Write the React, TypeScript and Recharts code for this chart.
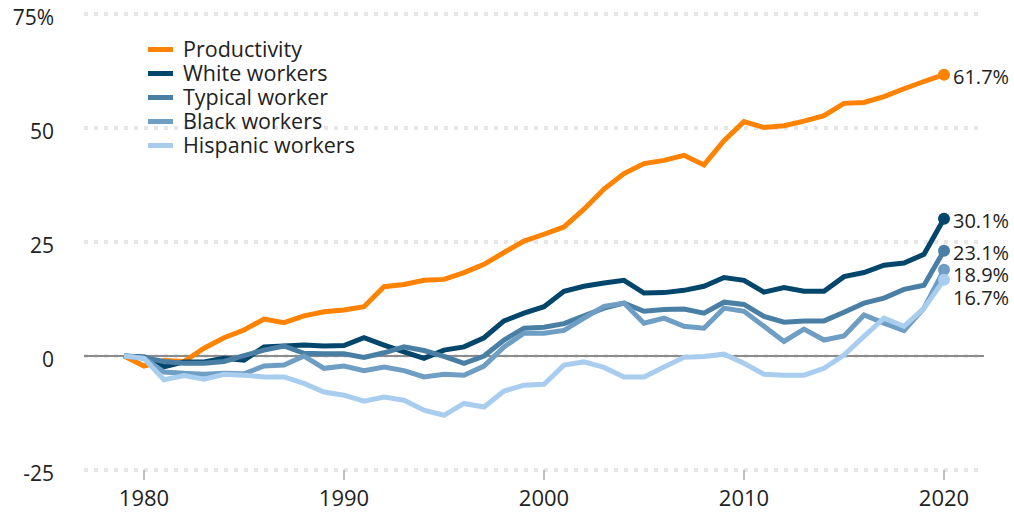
import React from "react"
import { LineChart, Line, XAxis, YAxis, CartesianGrid, ReferenceLine, Legend, LabelList } from "recharts"

const years = [
  1979, 1980, 1981, 1982, 1983, 1984, 1985, 1986, 1987, 1988, 1989, 1990, 1991, 1992, 1993, 1994, 1995, 1996, 1997,
  1998, 1999, 2000, 2001, 2002, 2003, 2004, 2005, 2006, 2007, 2008, 2009, 2010, 2011, 2012, 2013, 2014, 2015, 2016,
  2017, 2018, 2019, 2020,
]

const productivity = [
  0, -2.2, -1, -1.2, 1.7, 4, 5.7, 8.1, 7.3, 8.8, 9.7, 10.1, 10.8, 15.2, 15.7, 16.6, 16.8, 18.3, 20.1, 22.7, 25.2,
  26.7, 28.3, 32.2, 36.6, 40, 42.2, 42.9, 44, 41.9, 47.2, 51.4, 50.1, 50.5, 51.5, 52.7, 55.4, 55.6, 56.9, 58.6, 60.2,
  61.7,
]
const white = [
  0, -0.2, -2.4, -1.3, -1.3, -0.5, -0.9, 2, 2.2, 2.4, 2.2, 2.3, 4, 2.4, 0.9, -0.5, 1.3, 2, 4, 7.7, 9.4, 10.8, 14.2,
  15.3, 16, 16.6, 13.8, 13.9, 14.4, 15.3, 17.2, 16.6, 14, 15, 14.2, 14.2, 17.4, 18.3, 19.9, 20.4, 22.3, 30.1,
]
const typical = [
  0, -0.4, -1.2, -1.6, -1.6, -1.2, 0.1, 1.3, 2.2, 0.6, 0.5, 0.5, -0.3, 0.7, 2, 1.2, -0.1, -1.6, 0, 3.5, 6.1, 6.3, 7.1,
  8.8, 10.5, 11.6, 9.8, 10.2, 10.3, 9.4, 11.8, 11.3, 8.7, 7.4, 7.7, 7.7, 9.6, 11.6, 12.7, 14.6, 15.5, 23.1,
]
const black = [
  0, -0.5, -3.5, -3.8, -4, -3.8, -3.9, -2.2, -2, 0, -2.7, -2.2, -3.2, -2.4, -3.2, -4.6, -4, -4.2, -2.2, 2, 5, 5, 5.6,
  8.3, 10.9, 11.6, 7.2, 8.3, 6.5, 6.1, 10.5, 9.8, 6.5, 3.2, 5.9, 3.5, 4.4, 9, 7.2, 5.6, 10.5, 18.9,
]
const hispanic = [
  0, -0.5, -5.2, -4.3, -5.1, -4, -4.2, -4.6, -4.6, -6, -7.9, -8.6, -9.9, -9, -9.7, -11.9, -13, -10.4, -11.2, -7.7,
  -6.4, -6.2, -2, -1.3, -2.5, -4.6, -4.6, -2.4, -0.3, -0.1, 0.4, -1.6, -4, -4.2, -4.2, -2.7, 0.2, 4.3, 8.3, 6.5, 10.5,
  16.7,
]

const yTicks = [-25, 0, 25, 50, 75]
const xTicks = [1980, 1990, 2000, 2010, 2020]

const series = [
  { key: "productivity", name: "Productivity", color: "#ff8200", values: productivity, labelDy: 0 },
  { key: "white", name: "White workers", color: "#03466b", values: white, labelDy: 0 },
  { key: "typical", name: "Typical worker", color: "#4a7fa5", values: typical, labelDy: 0 },
  { key: "black", name: "Black workers", color: "#6f9ec4", values: black, labelDy: 3 },
  { key: "hispanic", name: "Hispanic workers", color: "#a8cdee", values: hispanic, labelDy: 16 },
]

const data = years.map((year, i) => {
  const row: Record<string, number> = { year }
  series.forEach((s) => {
    row[s.key] = s.values[i]
  })
  return row
})

const FONT = "'Open Sans', sans-serif"
const last = years.length - 1

const LegendBox = () => (
  <div style={{ fontFamily: FONT, fontSize: 21.5, color: "#222", lineHeight: "24px" }}>
    {series.map((s) => (
      <div key={s.key} style={{ display: "flex", alignItems: "center", height: 24 }}>
        <span style={{ display: "inline-block", width: 25, height: 5, background: s.color, marginRight: 10 }} />
        <span>{s.name}</span>
      </div>
    ))}
  </div>
)

export default function App() {
  return (
    <div style={{ position: "absolute", left: 0, top: 0 }}>
      <LineChart width={1014} height={512} data={data} margin={{ top: 14, right: 30, left: 0, bottom: 0 }}>
        <CartesianGrid vertical={false} stroke="#e6e6e6" strokeWidth={4} strokeDasharray="4 6" />
        <XAxis
          dataKey="year"
          type="number"
          domain={[1977, 2022]}
          ticks={xTicks}
          height={42}
          axisLine={false}
          tickLine={{ stroke: "#aaa", strokeWidth: 1.5 }}
          tickSize={10}
          tickMargin={10}
          tick={{ fill: "#222", fontSize: 22, fontFamily: FONT }}
        />
        <YAxis
          type="number"
          domain={[-25, 75]}
          ticks={yTicks}
          width={84}
          axisLine={false}
          tickLine={false}
          tickSize={0}
          tickMargin={30}
          tickFormatter={(v: number) => (v === 75 ? "75%" : String(v))}
          tick={{ fill: "#222", fontSize: 21, fontFamily: FONT, dy: 4 }}
        />
        <ReferenceLine y={0} stroke="#8c8c8c" strokeWidth={2} />
        <Legend
          layout="horizontal"
          align="center"
          verticalAlign="middle"
          content={<LegendBox />}
          wrapperStyle={{ left: 148, top: 37, width: 300 }}
        />
        {series.map((s) => (
          <Line
            key={s.key}
            dataKey={s.key}
            name={s.name}
            stroke={s.color}
            strokeWidth={5}
            type="linear"
            isAnimationActive={false}
            dot={(props: any) =>
              props.index === last ? (
                <circle key={`d-${s.key}`} cx={props.cx} cy={props.cy} r={6} fill={s.color} />
              ) : (
                <g key={`d-${s.key}-${props.index}`} />
              )
            }
            activeDot={false}
          >
            <LabelList
              dataKey={s.key}
              content={(p: any) =>
                p.index === last ? (
                  <text
                    x={p.x + 9}
                    y={p.y + s.labelDy}
                    dy={9}
                    fontSize={20}
                    fontFamily={FONT}
                    fill="#222"
                  >
                    {`${p.value}%`}
                  </text>
                ) : null
              }
            />
          </Line>
        ))}
      </LineChart>
    </div>
  )
}
